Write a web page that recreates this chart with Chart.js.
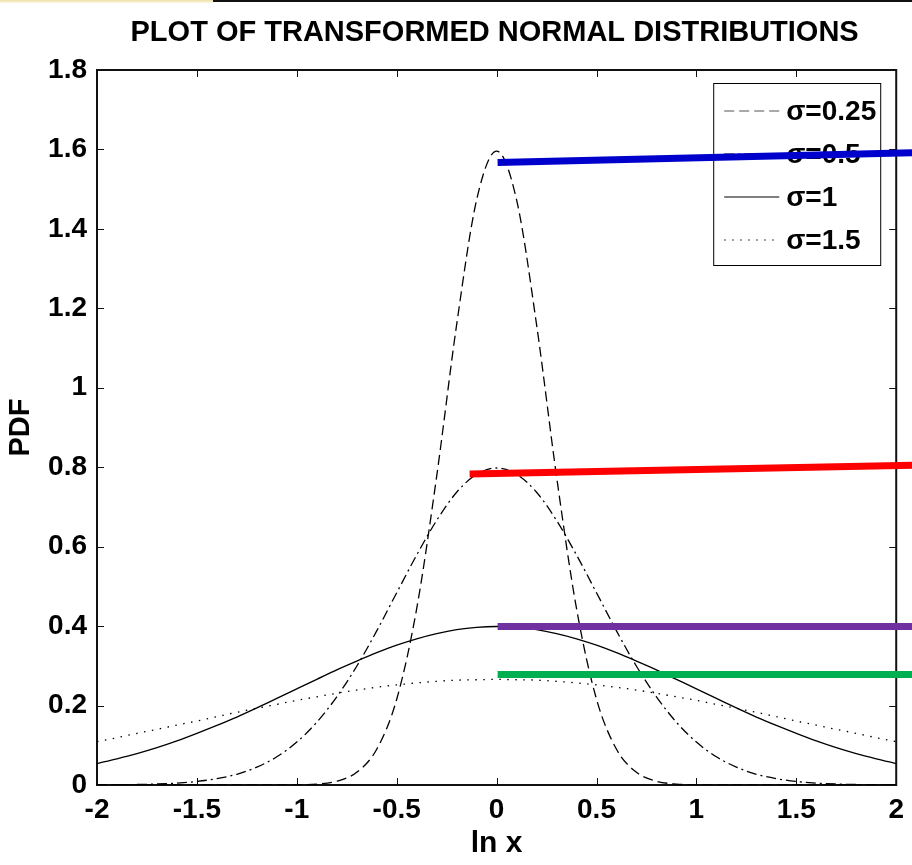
<!DOCTYPE html>
<html>
<head>
<meta charset="utf-8">
<title>Plot of transformed normal distributions</title>
<script src="https://cdn.jsdelivr.net/npm/chart.js@4.4.0/dist/chart.umd.min.js"></script>
<style>
  body { margin: 0; background: #fff; }
  #wrap { position: relative; width: 912px; height: 865px; }
  #strip { position: absolute; left: 0; top: 0; width: 213px; height: 3px; background: linear-gradient(#eee0a6, #fbf6e2); }
  #edge { position: absolute; left: 213px; top: 0; width: 699px; height: 2px; background: #111; }
</style>
</head>
<body>
<div id="wrap">
  <canvas id="pdf" width="912" height="865"></canvas>
  <div id="strip"></div><div id="edge"></div>
</div>
<script>
// values, ln x from -2 to 2 in steps of 0.1
const lnX = [-2, -1.9, -1.8, -1.7, -1.6, -1.5, -1.4, -1.3, -1.2, -1.1, -1, -0.9, -0.8, -0.7, -0.6, -0.5, -0.4, -0.3, -0.2, -0.1,
             0, 0.1, 0.2, 0.3, 0.4, 0.5, 0.6, 0.7, 0.8, 0.9, 1, 1.1, 1.2, 1.3, 1.4, 1.5, 1.6, 1.7, 1.8, 1.9, 2];

const pdf025 = [0, 0, 0, 0, 0, 0, 0, 0, 0, 0.0001, 0.0005, 0.0024, 0.0095, 0.032, 0.090, 0.216, 0.444, 0.777, 1.159, 1.473,
                1.596, 1.473, 1.159, 0.777, 0.444, 0.216, 0.090, 0.032, 0.0095, 0.0024, 0.0005, 0.0001, 0, 0, 0, 0, 0, 0, 0, 0, 0];
const pdf05 = [0.0003, 0.0006, 0.0012, 0.0025, 0.0048, 0.0089, 0.016, 0.027, 0.045, 0.071, 0.108, 0.158, 0.222, 0.299, 0.388, 0.484, 0.579, 0.666, 0.737, 0.782,
               0.798, 0.782, 0.737, 0.666, 0.579, 0.484, 0.388, 0.299, 0.222, 0.158, 0.108, 0.071, 0.045, 0.027, 0.016, 0.0089, 0.0048, 0.0025, 0.0012, 0.0006, 0.0003];
const pdf1 = [0.054, 0.066, 0.079, 0.094, 0.111, 0.130, 0.150, 0.171, 0.194, 0.218, 0.242, 0.266, 0.290, 0.312, 0.333, 0.352, 0.368, 0.381, 0.391, 0.397,
              0.399, 0.397, 0.391, 0.381, 0.368, 0.352, 0.333, 0.312, 0.290, 0.266, 0.242, 0.218, 0.194, 0.171, 0.150, 0.130, 0.111, 0.094, 0.079, 0.066, 0.054];
const pdf15 = [0.109, 0.119, 0.130, 0.140, 0.151, 0.161, 0.172, 0.183, 0.193, 0.203, 0.213, 0.222, 0.231, 0.239, 0.246, 0.252, 0.257, 0.261, 0.264, 0.265,
               0.266, 0.265, 0.264, 0.261, 0.257, 0.252, 0.246, 0.239, 0.231, 0.222, 0.213, 0.203, 0.193, 0.183, 0.172, 0.161, 0.151, 0.140, 0.130, 0.119, 0.109];

const seriesNames = ["σ=0.25", "σ=0.5", "σ=1", "σ=1.5"];

const xTicks = [-2, -1.5, -1, -0.5, 0, 0.5, 1, 1.5, 2];
const yTicks = [0, 0.2, 0.4, 0.6, 0.8, 1, 1.2, 1.4, 1.6, 1.8];

// coloured marker lines drawn over the peaks (they run off the right edge)
const blueX = [0.005, 2.1],   blueY = [1.567, 1.592];
const redX = [-0.135, 2.1],   redY = [0.783, 0.805];
const purpleX = [0.005, 2.1], purpleY = [0.399, 0.399];
const greenX = [0.005, 2.1],  greenY = [0.278, 0.278];

const chartTitle = "PLOT OF TRANSFORMED NORMAL DISTRIBUTIONS";
const FONT = "'Liberation Sans', Arial, Helvetica, sans-serif";

function pts(xs, ys) {
    return xs.map((x, i) => ({x: x, y: ys[i]}));
}

const dashes = [[10, 5], [10, 4, 2, 4], [], [1.5, 6.5]];
const curves = [pdf025, pdf05, pdf1, pdf15].map((vals, i) => ({
    label: seriesNames[i],
    data: pts(lnX, vals),
    borderColor: '#000',
    borderWidth: 1.3,
    borderDash: dashes[i],
    pointRadius: 0,
    cubicInterpolationMode: 'monotone',
    order: 1
}));

function marker(xs, ys, color) {
    return {
        label: '',
        isMarker: true,
        data: pts(xs, ys),
        borderColor: color,
        borderWidth: 7,
        borderCapStyle: 'butt',
        pointRadius: 0,
        clip: false,
        order: 0
    };
}
const markers = [
    marker(blueX, blueY, '#0000cc'),
    marker(redX, redY, '#ff0000'),
    marker(purpleX, purpleY, '#7030a0'),
    marker(greenX, greenY, '#00b050')
];

// legend box, drawn between the black curves and the coloured lines
function drawLegend(chart) {
    const ctx = chart.ctx, a = chart.chartArea;
    const w = 167, h = 182;
    const left = a.right - 16 - w, top = a.top + 13;
    ctx.save();
    ctx.fillStyle = '#fff';
    ctx.fillRect(left, top, w, h);
    ctx.strokeStyle = '#000';
    ctx.lineWidth = 1;
    ctx.strokeRect(left + 0.5, top + 0.5, w, h);
    ctx.font = "bold 28px " + FONT;
    ctx.textBaseline = 'middle';
    ctx.fillStyle = '#000';
    for (let i = 0; i < curves.length; i++) {
        const y = top + 28 + i * 43;
        ctx.setLineDash(dashes[i]);
        ctx.lineWidth = 1.2;
        ctx.strokeStyle = i == 0 ? '#555' : '#000';
        ctx.beginPath();
        ctx.moveTo(left + 11, y);
        ctx.lineTo(left + 66, y);
        ctx.stroke();
        ctx.setLineDash([]);
        ctx.fillText(curves[i].label, left + 73, y + 1);
    }
    ctx.restore();
}

let legendDone = false;
const matlabLook = {
    id: 'matlabLook',
    beforeDatasetsDraw(chart) {
        legendDone = false;
        const {ctx, chartArea: a, scales: {x, y}} = chart;
        ctx.save();
        ctx.strokeStyle = '#111';
        ctx.lineWidth = 2;
        ctx.strokeRect(a.left, a.top, a.right - a.left, a.bottom - a.top);
        ctx.lineWidth = 1;
        ctx.beginPath();
        xTicks.forEach(v => {
            const p = Math.round(x.getPixelForValue(v)) + 0.5;
            ctx.moveTo(p, a.bottom); ctx.lineTo(p, a.bottom - 7);
            ctx.moveTo(p, a.top); ctx.lineTo(p, a.top + 7);
        });
        yTicks.forEach(v => {
            const p = Math.round(y.getPixelForValue(v)) + 0.5;
            ctx.moveTo(a.left, p); ctx.lineTo(a.left + 7, p);
            ctx.moveTo(a.right, p); ctx.lineTo(a.right - 7, p);
        });
        ctx.stroke();
        ctx.restore();
    },
    beforeDatasetDraw(chart, args) {
        if (!legendDone && chart.data.datasets[args.index].isMarker) {
            drawLegend(chart);
            legendDone = true;
        }
    },
    afterDraw(chart) {
        const a = chart.chartArea, ctx = chart.ctx;
        ctx.save();
        ctx.font = "bold 29px " + FONT;
        ctx.textAlign = 'center';
        ctx.textBaseline = 'middle';
        ctx.fillStyle = '#000';
        ctx.fillText(chartTitle, (a.left + a.right) / 2 - 2, 33);
        ctx.restore();
    }
};

new Chart(document.getElementById('pdf'), {
    type: 'line',
    data: { datasets: markers.concat(curves) },
    options: {
        responsive: false,
        animation: false,
        devicePixelRatio: 1,
        layout: { padding: { left: 0, right: 15, top: 70, bottom: 0 } },
        plugins: { legend: { display: false }, title: { display: false }, tooltip: { enabled: false } },
        scales: {
            x: {
                type: 'linear', min: -2, max: 2,
                afterBuildTicks: s => { s.ticks = xTicks.map(v => ({value: v})); },
                afterFit: s => { s.height = 80; },
                grid: { display: false, drawTicks: false },
                border: { display: false },
                ticks: { color: '#000', padding: 8, maxRotation: 0, autoSkip: false,
                         font: { family: FONT, size: 28, weight: 'bold' },
                         callback: v => String(v) },
                title: { display: true, text: 'ln x', color: '#000', padding: { top: 0, bottom: 3 },
                         font: { family: FONT, size: 30, weight: 'bold' } }
            },
            y: {
                min: 0, max: 1.8,
                afterBuildTicks: s => { s.ticks = yTicks.map(v => ({value: v})); },
                afterFit: s => { s.width = 97; },
                grid: { display: false, drawTicks: false },
                border: { display: false },
                ticks: { color: '#000', padding: 10, autoSkip: false,
                         font: { family: FONT, size: 28, weight: 'bold' },
                         callback: v => String(v) },
                title: { display: true, text: 'PDF', color: '#000', padding: { top: 4, bottom: 0 },
                         font: { family: FONT, size: 29, weight: 'bold' } }
            }
        }
    },
    plugins: [matlabLook]
});
</script>
</body>
</html>
